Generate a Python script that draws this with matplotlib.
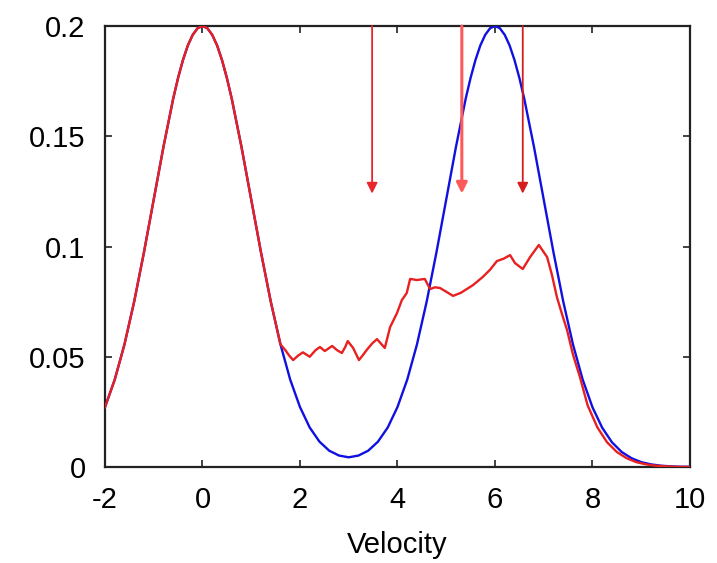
import numpy as np
import matplotlib
matplotlib.use('Agg')
import matplotlib.pyplot as plt
from matplotlib.ticker import FuncFormatter

plt.rcParams['font.family'] = ['Liberation Sans', 'DejaVu Sans']

# blue curve (finer near the two peaks)
blue_x = [-2.0, -1.8, -1.6, -1.4, -1.2, -1.0, -0.8, -0.6, -0.5, -0.4, -0.3, -0.2, -0.1,
          0.0, 0.1, 0.2, 0.3, 0.4, 0.5, 0.6, 0.8, 1.0, 1.2, 1.4, 1.6, 1.8,
          2.0, 2.2, 2.4, 2.6, 2.8, 3.0, 3.2, 3.4, 3.6, 3.8,
          4.0, 4.2, 4.4, 4.6, 4.8, 5.0, 5.2, 5.4, 5.5, 5.6, 5.7, 5.8, 5.9,
          6.0, 6.1, 6.2, 6.3, 6.4, 6.5, 6.6, 6.8, 7.0, 7.2, 7.4, 7.6, 7.8,
          8.0, 8.2, 8.4, 8.6, 8.8, 9.0, 9.2, 9.4, 9.6, 9.8, 10.0]
blue_y = [0.0271, 0.0396, 0.0556, 0.0751, 0.0974, 0.1213, 0.1452, 0.1671, 0.1765, 0.1846, 0.1912, 0.1960, 0.1990,
          0.2000, 0.1990, 0.1960, 0.1912, 0.1846, 0.1765, 0.1671, 0.1452, 0.1213, 0.0974, 0.0751, 0.0556, 0.0396,
          0.0272, 0.0179, 0.0115, 0.0074, 0.0052, 0.0044, 0.0052, 0.0074, 0.0115, 0.0179,
          0.0272, 0.0396, 0.0556, 0.0751, 0.0974, 0.1213, 0.1452, 0.1671, 0.1765, 0.1846, 0.1912, 0.1960, 0.1990,
          0.2000, 0.1990, 0.1960, 0.1912, 0.1846, 0.1765, 0.1671, 0.1452, 0.1213, 0.0974, 0.0751, 0.0556, 0.0396,
          0.0271, 0.0178, 0.0112, 0.0068, 0.0040, 0.0022, 0.0012, 0.0006, 0.0003, 0.0001, 0.0001]

# red curve (measured)
red_x = [-2.0, -1.8, -1.6, -1.4, -1.2, -1.0, -0.8, -0.6, -0.5, -0.4, -0.3, -0.2, -0.1,
         0.0, 0.1, 0.2, 0.3, 0.4, 0.5, 0.6, 0.8, 1.0, 1.2, 1.4, 1.6,
         1.70, 1.78, 1.86, 1.96, 2.06, 2.13, 2.20, 2.32, 2.41, 2.51, 2.66, 2.76,
         2.86, 2.93, 2.98, 3.09, 3.21, 3.30, 3.37, 3.48, 3.58, 3.66, 3.74,
         3.85, 3.99, 4.09, 4.19, 4.26, 4.40, 4.56, 4.67, 4.77, 4.87,
         5.00, 5.14, 5.30, 5.55, 5.75, 5.90, 6.04, 6.18, 6.31, 6.41,
         6.57, 6.72, 6.90, 7.07, 7.17, 7.27, 7.38, 7.48, 7.60, 7.74,
         7.90, 8.10, 8.30, 8.50, 8.70, 8.90, 9.10, 9.30, 9.50, 9.70, 10.0]
red_y = [0.0271, 0.0396, 0.0556, 0.0751, 0.0974, 0.1213, 0.1452, 0.1671, 0.1765, 0.1846, 0.1912, 0.1960, 0.1990,
         0.2000, 0.1990, 0.1960, 0.1912, 0.1846, 0.1765, 0.1671, 0.1452, 0.1213, 0.0974, 0.0751, 0.0556,
         0.0530, 0.0505, 0.0485, 0.0505, 0.0520, 0.0510, 0.0500, 0.0530, 0.0544, 0.0526, 0.0549, 0.0530,
         0.0517, 0.0545, 0.0571, 0.0540, 0.0485, 0.0510, 0.0531, 0.0560, 0.0580, 0.0560, 0.0540,
         0.0635, 0.0698, 0.0757, 0.0789, 0.0853, 0.0848, 0.0853, 0.0807, 0.0815, 0.0812,
         0.0795, 0.0776, 0.0790, 0.0825, 0.0862, 0.0895, 0.0934, 0.0945, 0.0961, 0.0925,
         0.0898, 0.0952, 0.1007, 0.0952, 0.0870, 0.0771, 0.0690, 0.0620, 0.0510, 0.0410,
         0.0280, 0.0180, 0.0112, 0.0068, 0.0040, 0.0022, 0.0012, 0.0006, 0.0003, 0.0001, 0.0000]

# arrow positions (x) and where the heads end (y)
arrow_x = [3.48, 5.32, 6.57]
arrow_tip = 0.124
arrow_colors = ['#e8262b', '#ff5a5a', '#d41d1d']
arrow_widths = [1.3, 2.2, 1.3]

fig = plt.figure(figsize=(7.17, 5.63), dpi=100)
ax = fig.add_axes([0.1464, 0.1705, 0.8159, 0.7833])

ax.plot(blue_x, blue_y, color='#1010e0', lw=1.7, zorder=3)
ax.plot(red_x, red_y, color='#e82020', lw=1.7, zorder=4)

for xa, c, w in zip(arrow_x, arrow_colors, arrow_widths):
    ax.annotate('', xy=(xa, arrow_tip), xytext=(xa, 0.2),
                arrowprops=dict(arrowstyle='-|>', color=c, lw=w,
                                mutation_scale=16, shrinkA=0, shrinkB=0),
                zorder=5)

ax.set_xlim(-2, 10)
ax.set_ylim(0, 0.2)
ax.set_xticks([-2, 0, 2, 4, 6, 8, 10])
ax.set_yticks([0, 0.05, 0.1, 0.15, 0.2])
fmt = FuncFormatter(lambda v, p: '%g' % v)
ax.xaxis.set_major_formatter(fmt)
ax.yaxis.set_major_formatter(fmt)

for s in ax.spines.values():
    s.set_linewidth(1.6)
    s.set_color('#222222')
ax.tick_params(direction='in', length=5, width=1.2, top=True, right=True,
               labelsize=21, pad=14, color='#222222')
ax.set_xlabel('Velocity', fontsize=21, labelpad=12)

fig.savefig('out.png', dpi=100)
